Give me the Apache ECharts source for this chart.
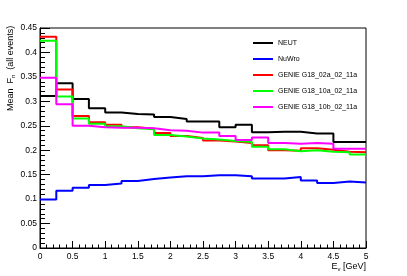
<!DOCTYPE html>
<html><head><meta charset="utf-8">
<script src="https://cdn.jsdelivr.net/npm/echarts@6/dist/echarts.min.js"></script>
<style>html,body{margin:0;padding:0;background:#fff}#c{width:407px;height:276px}</style>
</head><body><div id="c"></div>
<script>
const binEdges = [0,0.25,0.5,0.75,1,1.25,1.5,1.75,2,2.25,2.5,2.75,3,3.25,3.5,3.75,4,4.25,4.5,4.75,5];
const seriesNames = ['NEUT','NuWro','GENIE G18_02a_02_11a','GENIE G18_10a_02_11a','GENIE G18_10b_02_11a'];
const neut   = [0.311,0.337,0.305,0.286,0.277,0.274,0.273,0.268,0.264,0.259,0.259,0.247,0.252,0.237,0.238,0.238,0.234,0.234,0.217,0.217];
const nuwro  = [0.099,0.117,0.123,0.129,0.132,0.137,0.141,0.144,0.147,0.147,0.149,0.149,0.147,0.142,0.142,0.145,0.138,0.133,0.136,0.134];
const g02a   = [0.432,0.324,0.270,0.257,0.252,0.247,0.244,0.235,0.229,0.225,0.220,0.218,0.215,0.210,0.200,0.199,0.204,0.201,0.197,0.196];
const g10a   = [0.424,0.310,0.265,0.254,0.249,0.245,0.243,0.231,0.228,0.224,0.222,0.219,0.217,0.207,0.202,0.198,0.200,0.197,0.196,0.191];
const g10b   = [0.348,0.294,0.250,0.247,0.246,0.246,0.245,0.241,0.240,0.236,0.236,0.229,0.221,0.226,0.215,0.213,0.215,0.213,0.203,0.203];
const yTicks = ['0','0.05','0.1','0.15','0.2','0.25','0.3','0.35','0.4','0.45'];
const xTicks = ['0','0.5','1','1.5','2','2.5','3','3.5','4','4.5','5'];
const colors = ['#000000','#0000ff','#ff0000','#00ff00','#ff00ff'];

function steps(vals){
  const pts = vals.map((v,i)=>[binEdges[i], v]);
  pts.push([binEdges[binEdges.length-1], vals[vals.length-1]]);
  return pts;
}
const FONT = '"Liberation Sans", Arial, sans-serif';
const chart = echarts.init(document.getElementById('c'), null, {renderer:'canvas'});
const allVals = [neut, nuwro, g02a, g10a, g10b];
chart.setOption({
  animation:false,
  backgroundColor:'#fff',
  grid:{left:40,right:41,top:28,bottom:28,show:true,borderColor:'#000',borderWidth:1,backgroundColor:'transparent'},
  legend:{
    left:248, top:34, orient:'vertical', icon:'rect', itemWidth:20, itemHeight:2, itemGap:8,
    textStyle:{fontSize:7, lineHeight:8, fontFamily:FONT, color:'#000', padding:[0,0,0,0]},
    data:seriesNames
  },
  xAxis:{
    type:'value', min:0, max:5, interval:0.5,
    axisLine:{lineStyle:{color:'#000',width:1}},
    axisTick:{inside:true,length:7,lineStyle:{color:'#000'}},
    minorTick:{show:true,splitNumber:5,length:3.5,lineStyle:{color:'#000'}},
    splitLine:{show:false},
    axisLabel:{fontSize:8.5,fontFamily:FONT,color:'#000',margin:4,
      formatter:(v)=>xTicks[Math.round(v/0.5)]}
  },
  yAxis:{
    type:'value', min:0, max:0.45, interval:0.05,
    axisLine:{show:true,lineStyle:{color:'#000',width:1}},
    axisTick:{show:true,inside:true,length:10,lineStyle:{color:'#000'}},
    minorTick:{show:true,splitNumber:5,length:5,lineStyle:{color:'#000'}},
    splitLine:{show:false},
    axisLabel:{fontSize:8.5,fontFamily:FONT,color:'#000',margin:3,
      formatter:(v)=>yTicks[Math.round(v/0.05)]}
  },
  graphic:[
    {type:'text', x:11, y:111, rotation:Math.PI/2,
     style:{text:'{m|Mean  F}{s|n}{m|  (all events)}', textAlign:'left', textVerticalAlign:'middle',
       rich:{m:{fontSize:9,fontFamily:FONT,fill:'#000',lineHeight:10},
             s:{fontSize:6,fontFamily:FONT,fill:'#000',lineHeight:6,verticalAlign:'bottom'}}}},
    {type:'text', x:366, y:267,
     style:{text:'{m|E}{s|ν}{m| [GeV]}', textAlign:'right', textVerticalAlign:'middle',
       rich:{m:{fontSize:9,fontFamily:FONT,fill:'#000',lineHeight:10},
             s:{fontSize:6,fontFamily:FONT,fill:'#000',lineHeight:6,verticalAlign:'bottom'}}}}
  ],
  series: seriesNames.map((n,i)=>({
    name:n, type:'line', step:'end', symbol:'none', showSymbol:false,
    data:steps(allVals[i]),
    lineStyle:{color:colors[i],width:2},
    itemStyle:{color:colors[i]}
  }))
});
</script></body></html>
